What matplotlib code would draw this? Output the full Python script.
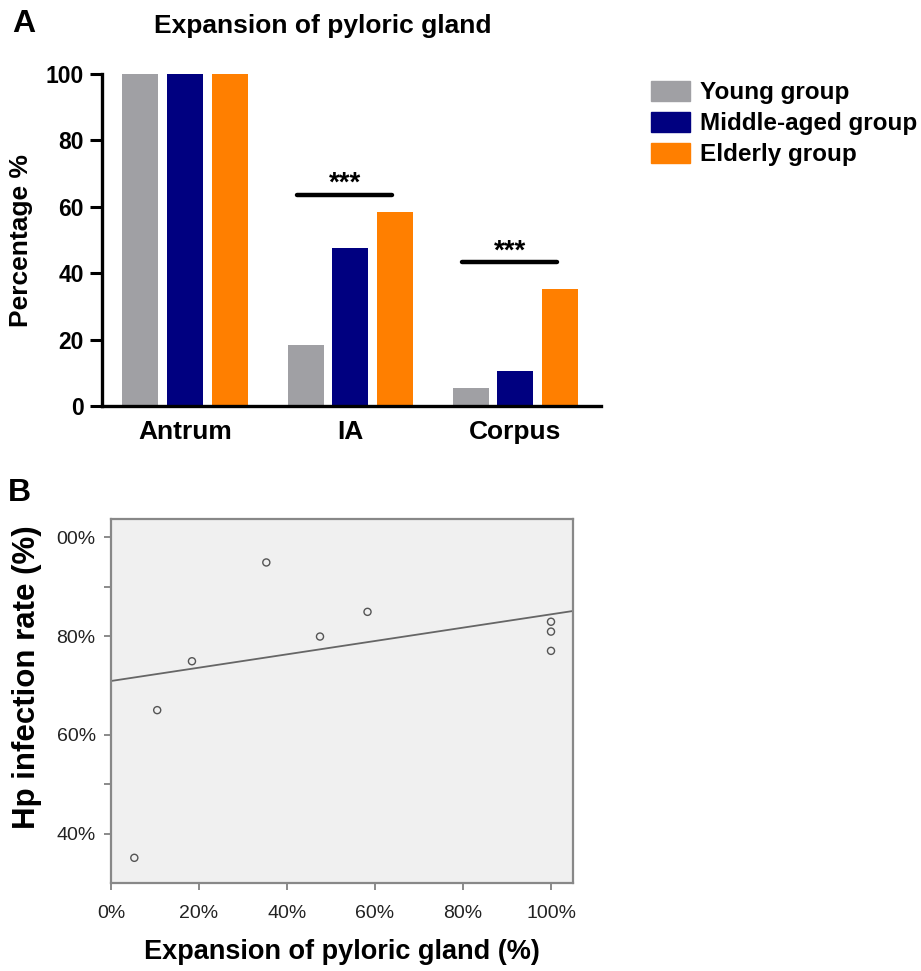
import matplotlib
matplotlib.use('Agg')
import matplotlib.pyplot as plt
from matplotlib.patches import Patch
import numpy as np

plt.rcParams['font.family'] = ['Liberation Sans', 'DejaVu Sans']

# Panel A data
sites = ['Antrum', 'IA', 'Corpus']
groups = ['Young group', 'Middle-aged group', 'Elderly group']
colours = ['#A0A0A4', '#000080', '#FF7F00']
young = [100, 18.4, 5.3]
middle = [100, 47.5, 10.5]
elderly = [100, 58.3, 35.3]
sig_pairs = [(1, 63.7), (2, 43.3)]   # (site index, bar height)

# Panel B data
expansion = [0.053, 0.105, 0.184, 0.353, 0.475, 0.583, 1.0, 1.0, 1.0]
hp_rate = [0.351, 0.650, 0.749, 0.949, 0.799, 0.849, 0.829, 0.809, 0.770]
fit_intercept = 0.709
fit_slope = 0.135
ytick_vals = [0.4, 0.6, 0.8, 1.0]
ytick_labels = ['40%', '60%', '80%', '00%']
xtick_vals = [0, 0.2, 0.4, 0.6, 0.8, 1.0]
xtick_labels = ['0%', '20%', '40%', '60%', '80%', '100%']

W, H = 921, 971
fig = plt.figure(figsize=(W / 100, H / 100), dpi=100)

#%% Panel A
axA = fig.add_axes([102 / W, 1 - 406 / H, (601 - 102) / W, (406 - 74) / H])
x = np.arange(len(sites))
step = 0.27
width = 0.218
for k, (vals, col, lab) in enumerate(zip([young, middle, elderly], colours, groups)):
    axA.bar(x + (k - 1) * step, vals, width=width, color=col, label=lab)

for i, h in sig_pairs:
    axA.plot([i - 0.32, i + 0.255], [h, h], color='black', lw=3.2, solid_capstyle='round')
    axA.text(i - 0.03, h - 0.6, '***', ha='center', va='bottom', fontsize=20, fontweight='bold')

axA.set_xlim(-0.503, 2.52)
axA.set_ylim(0, 100)
axA.set_yticks([0, 20, 40, 60, 80, 100])
axA.set_xticks(x)
axA.set_xticklabels(sites, fontsize=19, fontweight='bold')
for t in axA.get_yticklabels():
    t.set_fontsize(16.5)
    t.set_fontweight('bold')
axA.tick_params(axis='y', length=9, width=2.2, pad=4)
axA.tick_params(axis='x', length=0, pad=10)
for s in ['top', 'right']:
    axA.spines[s].set_visible(False)
for s in ['left', 'bottom']:
    axA.spines[s].set_linewidth(2.4)
axA.set_ylabel('Percentage %', fontsize=19, fontweight='bold')
axA.yaxis.set_label_coords(-0.138, 0.5)

fig.text(323 / W, 1 - 26 / H, 'Expansion of pyloric gland', ha='center', va='center',
         fontsize=19, fontweight='bold')
fig.text(12 / W, 1 - 24 / H, 'A', ha='left', va='center', fontsize=23, fontweight='bold')

handles = [Patch(color=c) for c in colours]
fig.legend(handles, groups, loc='upper left', bbox_to_anchor=(651 / W, 1 - 81 / H),
           frameon=False, prop={'weight': 'bold', 'size': 17.5},
           handlelength=1.6, handleheight=0.9, handletextpad=0.4,
           labelspacing=0.3, borderpad=0, borderaxespad=0)

#%% Panel B
axB = fig.add_axes([111 / W, 1 - 883 / H, (573 - 111) / W, (883 - 519) / H])
axB.set_facecolor('#F0F0F0')
axB.scatter(expansion, hp_rate, s=26, facecolors='none', edgecolors='#555555', linewidths=1, zorder=3)
xl = np.array([0, 1.05])
axB.plot(xl, fit_intercept + fit_slope * xl, color='#666666', lw=1.3)
axB.set_xlim(0, 1.05)
axB.set_ylim(0.30, 1.037)
axB.set_xticks(xtick_vals)
axB.set_xticklabels(xtick_labels)
axB.set_yticks(ytick_vals)
axB.set_yticklabels(ytick_labels)
axB.set_yticks([0.5, 0.9], minor=True)
for t in axB.get_xticklabels() + axB.get_yticklabels():
    t.set_fontsize(14)
    t.set_color('#222222')
axB.tick_params(axis='both', which='both', color='#777777', width=1.2, length=5)
axB.tick_params(axis='x', pad=11)
axB.tick_params(axis='y', pad=6)
for s in axB.spines.values():
    s.set_color('#888888')
    s.set_linewidth(1.6)
axB.set_xlabel('Expansion of pyloric gland (%)', fontsize=19.5, fontweight='bold', labelpad=12)
axB.set_ylabel('Hp infection rate (%)', fontsize=22.5, fontweight='bold')
axB.yaxis.set_label_coords(-0.149, 0.565)
fig.text(8 / W, 1 - 493 / H, 'B', ha='left', va='center', fontsize=23, fontweight='bold')

fig.savefig('out.png', dpi=100)
